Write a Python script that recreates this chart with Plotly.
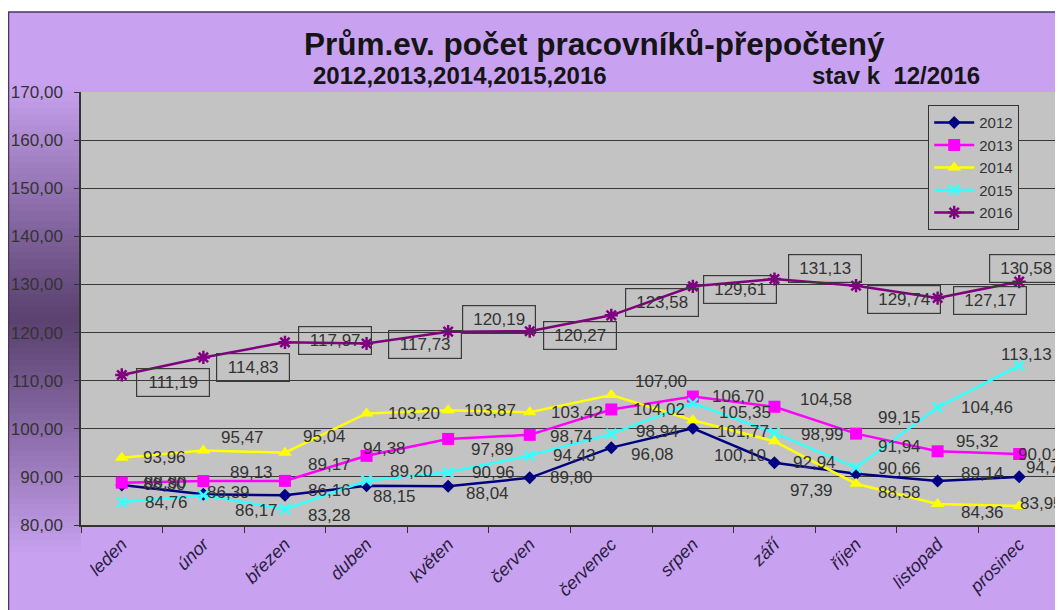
import plotly.graph_objects as go

# ---------------- data ----------------
categories = ["leden", "únor", "březen", "duben", "květen", "červen",
              "červenec", "srpen", "září", "říjen", "listopad", "prosinec"]
series_names = ["2012", "2013", "2014", "2015", "2016"]
y2012 = [88.30, 86.39, 86.16, 88.15, 88.04, 89.80, 96.08, 100.10, 92.94, 90.66, 89.14, 90.01]
y2013 = [88.80, 89.13, 89.17, 94.38, 97.89, 98.74, 104.02, 106.70, 104.58, 98.99, 95.32, 94.76]
y2014 = [93.96, 95.47, 95.04, 103.20, 103.87, 103.42, 107.00, 101.77, 97.39, 88.58, 84.36, 83.95]
y2015 = [84.76, 86.17, 83.28, 89.20, 90.96, 94.43, 98.94, 105.35, 99.15, 91.94, 104.46, 113.13]
y2016 = [111.19, 114.83, 117.97, 117.73, 120.19, 120.27, 123.58, 129.61, 131.13, 129.74, 127.17, 130.58]
ytick_vals = [80, 90, 100, 110, 120, 130, 140, 150, 160, 170]
ytick_text = ["80,00", "90,00", "100,00", "110,00", "120,00", "130,00",
              "140,00", "150,00", "160,00", "170,00"]
title_text = "Prům.ev. počet pracovníků-přepočtený"
subtitle_left = "2012,2013,2014,2015,2016"
subtitle_right = "stav k\u00a0 12/2016"

# ---------------- styles / layout ----------------
FONT = "Liberation Sans, Arial, sans-serif"
W, H = 1063, 610
OFF = 8  # page body margin: figure is drawn 8px right/down in the window
# plot area in window pixels: x 81..1060, y 92..525
ML = 81 - OFF
MT = 92 - OFF
PW = 1060 - 81
PH = 525 - 92
MR = W - ML - PW
MB = H - MT - PH

def px2x(sx):
    return (sx - OFF - ML) / PW

def py2y(sy):
    return (MT + PH - (sy - OFF)) / PH

styles = {
    "2012": dict(color="#000080", symbol="diamond", size=10, lw=2.5),
    "2013": dict(color="#FF00FF", symbol="square", size=12, lw=2.5),
    "2014": dict(color="#FFFF00", symbol="triangle-up", size=12, lw=2.5),
    "2015": dict(color="#33FFFF", symbol="x-thin", size=10, lw=2.5),
    "2016": dict(color="#800080", symbol="asterisk", size=11, lw=2.5),
}

# label offsets in pixels (dx right, dy down) relative to each point
label_offsets = {
    "2012": [(43, -1), (25, -2), (45, -5), (28, 11), (39, 7), (42, 0), (41, 7), (47, 27), (40, 0), (43, -5), (45, -8), (20, -22)],
    "2013": [(44, 0), (48, -9), (45, -16), (18, -7), (44, 11), (42, 2), (48, 0), (45, 0), (52, -7), (-34, 1), (40, -10), (28, 14)],
    "2014": [(43, 0), (39, -13), (40, -16), (47, 0), (42, 0), (47, 0), (50, -14), (50, 11), (37, 49), (43, 9), (45, 8), (22, -3)],
    "2015": [(45, 0), (53, 15), (45, 6), (45, -9), (45, 0), (45, 0), (46, -2), (52, 9), (125, -15), (43, -21), (49, 0), (7, -11)],
    "2016": [(51, 8), (50, 10), (50, -2), (58, 1), (51, -12), (50, 4), (51, -13), (47, 3), (51, -11), (48, 14), (52, 2), (7, -13)],
}

data = {"2012": y2012, "2013": y2013, "2014": y2014, "2015": y2015, "2016": y2016}

fig = go.Figure()
for name in series_names:
    st = styles[name]
    marker = dict(symbol=st["symbol"], size=st["size"], color=st["color"],
                  line=dict(width=0, color=st["color"]))
    if st["symbol"] in ("asterisk", "x-thin"):
        marker["line"] = dict(width=2.5, color=st["color"])
    fig.add_trace(go.Scatter(
        x=categories, y=data[name], name=name, mode="lines+markers",
        line=dict(color=st["color"], width=st["lw"]),
        marker=marker, cliponaxis=False,
    ))

annotations = []
for name in series_names:
    boxed = name == "2016"
    for i, v in enumerate(data[name]):
        dx, dy = label_offsets[name][i]
        a = dict(x=categories[i], y=v, xref="x", yref="y", showarrow=False,
                 text=f"{v:.2f}".replace(".", ","), xshift=dx, yshift=-dy,
                 font=dict(family=FONT, size=17, color="#333333"))
        if boxed:
            a.update(bordercolor="#3a3a3a", borderwidth=1.2, borderpad=3,
                     width=66, height=21)
        annotations.append(a)

# titles
annotations.append(dict(xref="paper", yref="paper", x=px2x(594), y=py2y(44),
                        text=f"<b>{title_text}</b>", showarrow=False,
                        xanchor="center", yanchor="middle",
                        font=dict(family=FONT, size=31.5, color="#151515")))
annotations.append(dict(xref="paper", yref="paper", x=px2x(460), y=py2y(75),
                        text=f"<b>{subtitle_left}</b>", showarrow=False,
                        xanchor="center", yanchor="middle",
                        font=dict(family=FONT, size=24, color="#151515")))
annotations.append(dict(xref="paper", yref="paper", x=px2x(896), y=py2y(75),
                        text=f"<b>{subtitle_right}</b>", showarrow=False,
                        xanchor="center", yanchor="middle",
                        font=dict(family=FONT, size=24, color="#151515")))

# background shapes (outside the plot area)
LIGHT = (0xC8, 0xA2, 0xF0)
DARK = (0x5B, 0x42, 0x70)

def grad_color(sy):
    t = min(1.0, abs(sy - 320) / 235.0)
    t = t ** 1.1
    c = [round(DARK[k] + (LIGHT[k] - DARK[k]) * t) for k in range(3)]
    return "rgb(%d,%d,%d)" % tuple(c)

shapes = []
band = 6
sy = 12
while sy < H + OFF:
    shapes.append(dict(type="rect", xref="paper", yref="paper",
                       x0=px2x(8), x1=px2x(81), y0=py2y(sy + band + 0.5), y1=py2y(sy),
                       fillcolor=grad_color(sy + band / 2), line=dict(width=0),
                       layer="below"))
    sy += band
# white strip at the top
shapes.append(dict(type="rect", xref="paper", yref="paper", x0=px2x(0), x1=px2x(W + 20),
                   y0=py2y(12), y1=py2y(0), fillcolor="white", line=dict(width=0), layer="below"))
# outer frame
shapes.append(dict(type="rect", xref="paper", yref="paper", x0=px2x(8.5), x1=px2x(W + 20),
                   y0=py2y(H + 30), y1=py2y(12), fillcolor="rgba(0,0,0,0)",
                   line=dict(width=1.5, color="#4a3560"), layer="below"))

fig.update_layout(
    width=W, height=H,
    margin=dict(l=ML, r=MR, t=MT, b=MB, pad=0, autoexpand=False),
    paper_bgcolor="#C8A2F0",
    plot_bgcolor="#C3C3C3",
    font=dict(family=FONT, color="#333333"),
    showlegend=True,
    legend=dict(x=px2x(928), y=py2y(105), xanchor="left", yanchor="top",
                bgcolor="#C3C3C3", bordercolor="#333333", borderwidth=1.2,
                font=dict(family=FONT, size=15, color="#333333"),
                itemwidth=40, tracegroupgap=0),
    annotations=annotations,
    shapes=shapes,
    hovermode=False,
)
fig.update_xaxes(
    type="category", range=[-0.5, 11.5], showgrid=False, automargin=False,
    showline=True, linecolor="#333333", linewidth=1.5,
    ticks="outside", tickson="boundaries", ticklen=6, tickcolor="#333333", tickwidth=1,
    tickangle=-45,
    tickfont=dict(family=FONT, size=18, color="#2a1d40", style="italic"),
)
fig.update_yaxes(
    range=[80, 170], tickvals=ytick_vals, ticktext=ytick_text, automargin=False,
    showgrid=True, gridcolor="#3a3a3a", gridwidth=1.3, zeroline=False,
    showline=True, linecolor="#333333", linewidth=1.5,
    ticks="outside", ticklen=5, tickcolor="#333333",
    ticklabelstandoff=8,
    tickfont=dict(family=FONT, size=17, color="#333333"),
)

fig.write_html("out.html")
